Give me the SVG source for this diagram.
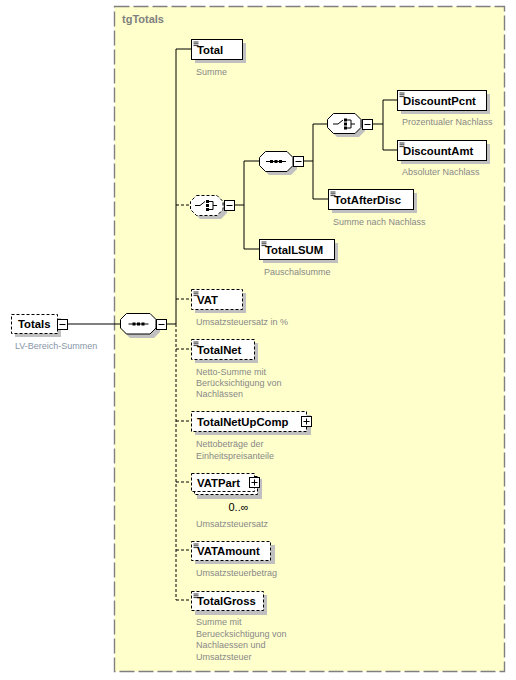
<svg xmlns="http://www.w3.org/2000/svg" width="516" height="680" viewBox="0 0 516 680">
<style>
.grp{fill:#FFFFCC;stroke:#808080;stroke-width:1.4;stroke-dasharray:15 4}
.gt{font-family:"Liberation Sans",Arial,sans-serif;font-weight:bold;font-size:11px;fill:#808080}
.box{fill:#fff;stroke:#000;stroke-width:1}
.opt{stroke-dasharray:3 2}
.sh{fill:#c0c0c0;stroke:none}
.nm{font-family:"Liberation Sans",Arial,sans-serif;font-weight:bold;font-size:11.3px;fill:#000}
.ds{font-family:"Liberation Sans",Arial,sans-serif;font-size:9px;fill:#888}
.ln{fill:none;stroke:#000;stroke-width:1}
.dl{fill:none;stroke:#000;stroke-width:1;stroke-dasharray:3 2}
.ic{fill:none;stroke:#000;stroke-width:0.8}
.pm{fill:#fff;stroke:#000;stroke-width:1}
.oc{font-family:"Liberation Sans",Arial,sans-serif;font-size:11px;fill:#000}
</style>
<defs>
<g id="elicon"><path class="ic" d="M2,2.5H7M2,4.3H7M2,6.1H7"/></g>
<g id="minus"><rect class="pm" x="0" y="0" width="10" height="10"/><path class="ln" d="M2,5H8"/></g>
<g id="plus"><rect class="pm" x="0" y="0" width="10" height="10"/><path class="ln" d="M2,5H8M5,2V8"/></g>
<g id="seqicon"><path class="ln" d="M-10,0H10"/><rect x="-6" y="-1.5" width="3" height="3"/><rect x="-1.5" y="-1.5" width="3" height="3"/><rect x="3" y="-1.5" width="3" height="3"/></g>
<g id="choiceicon"><path class="ln" d="M-12,0H-7L-2,-4"/><rect x="-1" y="-5.5" width="3" height="3"/><rect x="-1" y="-1.5" width="3" height="3"/><rect x="-1" y="2.5" width="3" height="3"/><path class="ln" d="M2,-4H6V4H2M6,0H10"/></g>
</defs>

<g id="tgTotals">
<rect class="grp" x="114.5" y="6.5" width="390" height="665"/>
<text class="gt" x="122" y="23">tgTotals</text>
</g>

<g id="connectors">
<path class="ln" d="M67,324H120M166,324H176M176,49V324M176,49H191"/>
<path class="dl" d="M176,324V600M176,205H190M176,299H191M176,349H191M176,421H191M176,482H191M176,550H191M176,600H191"/>
<path class="ln" d="M234,205H244M244,161V249M244,161H259M244,249H259"/>
<path class="ln" d="M303,161H313M313,124V199M313,124H327M313,199H328"/>
<path class="ln" d="M372,124H383M383,100V150M383,100H397M383,150H397"/>
</g>

<g id="Totals">
<rect class="sh" x="15" y="318" width="46" height="19"/>
<rect class="box opt" x="11.5" y="314.5" width="46" height="19"/>
<text class="nm" x="18" y="328">Totals</text>
<use href="#minus" x="57.5" y="319.5"/>
<text class="ds" x="15" y="349" style="fill:#8896a8">LV-Bereich-Summen</text>
</g>

<g id="sequence1">
<path class="sh" d="M130,317H154L160,323V332L154,338H130L124,332V323Z"/>
<path class="box" d="M126.5,313.5H150L156,319.5V328L150,334H126.5L120.5,328V319.5Z"/>
<use href="#seqicon" x="138.5" y="324"/>
<use href="#minus" x="156.5" y="319.5"/>
</g>

<g id="Total">
<rect class="sh" x="195" y="43" width="51" height="20"/>
<rect class="box" x="191.5" y="39.5" width="51" height="20"/>
<use href="#elicon" x="191.5" y="39.5"/>
<text class="nm" x="197" y="54">Total</text>
<text class="ds" x="196" y="75">Summe</text>
</g>

<g id="choice1">
<path class="sh" d="M200,199H221L227,205V213L221,219H200L194,213V205Z"/>
<path class="box opt" d="M196.5,195.5H217L223,201.5V209.5L217,215.5H196.5L190.5,209.5V201.5Z"/>
<use href="#choiceicon" x="207" y="205.5"/>
<use href="#minus" x="224.5" y="200.5"/>
</g>

<g id="sequence2">
<path class="sh" d="M269,155H291L297,161V169L291,175H269L263,169V161Z"/>
<path class="box" d="M265.5,151.5H287L293,157.5V165.5L287,171.5H265.5L259.5,165.5V157.5Z"/>
<use href="#seqicon" x="276" y="161.5"/>
<use href="#minus" x="293.5" y="156.5"/>
</g>

<g id="choice2">
<path class="sh" d="M337,117H359L365,123V131L359,137H337L331,131V123Z"/>
<path class="box" d="M333.5,113.5H355L361,119.5V127.5L355,133.5H333.5L327.5,127.5V119.5Z"/>
<use href="#choiceicon" x="345" y="124"/>
<use href="#minus" x="362.5" y="119.5"/>
</g>

<g id="DiscountPcnt">
<rect class="sh" x="401" y="94" width="89" height="20"/>
<rect class="box" x="397.5" y="90.5" width="89" height="20"/>
<use href="#elicon" x="397.5" y="90.5"/>
<text class="nm" x="403" y="105">DiscountPcnt</text>
<text class="ds" x="402" y="125">Prozentualer Nachlass</text>
</g>

<g id="DiscountAmt">
<rect class="sh" x="401" y="144" width="89" height="20"/>
<rect class="box" x="397.5" y="140.5" width="89" height="20"/>
<use href="#elicon" x="397.5" y="140.5"/>
<text class="nm" x="403" y="155">DiscountAmt</text>
<text class="ds" x="402" y="175">Absoluter Nachlass</text>
</g>

<g id="TotAfterDisc">
<rect class="sh" x="332" y="193" width="85" height="20"/>
<rect class="box" x="328.5" y="189.5" width="85" height="20"/>
<use href="#elicon" x="328.5" y="189.5"/>
<text class="nm" x="334" y="204">TotAfterDisc</text>
<text class="ds" x="333" y="225">Summe nach Nachlass</text>
</g>

<g id="TotalLSUM">
<rect class="sh" x="263" y="243" width="75" height="20"/>
<rect class="box" x="259.5" y="239.5" width="75" height="20"/>
<use href="#elicon" x="259.5" y="239.5"/>
<text class="nm" x="265" y="254">TotalLSUM</text>
<text class="ds" x="264" y="275">Pauschalsumme</text>
</g>

<g id="VAT">
<rect class="sh" x="195" y="293" width="51" height="20"/>
<rect class="box opt" x="191.5" y="289.5" width="51" height="20"/>
<use href="#elicon" x="191.5" y="289.5"/>
<text class="nm" x="197" y="304">VAT</text>
<text class="ds" x="196" y="325">Umsatzsteuersatz in %</text>
</g>

<g id="TotalNet">
<rect class="sh" x="195" y="343" width="63" height="20"/>
<rect class="box opt" x="191.5" y="339.5" width="63" height="20"/>
<use href="#elicon" x="191.5" y="339.5"/>
<text class="nm" x="197" y="354">TotalNet</text>
<text class="ds" x="196" y="375">Netto-Summe mit</text>
<text class="ds" x="196" y="386">Berücksichtigung von</text>
<text class="ds" x="196" y="397">Nachlässen</text>
</g>

<g id="TotalNetUpComp">
<rect class="sh" x="195" y="415" width="116" height="20"/>
<rect class="box opt" x="191.5" y="411.5" width="115" height="20"/>
<text class="nm" x="197" y="426">TotalNetUpComp</text>
<use href="#plus" x="301.5" y="416.5"/>
<text class="ds" x="196" y="447">Nettobeträge der</text>
<text class="ds" x="196" y="459">Einheitspreisanteile</text>
</g>

<g id="VATPart">
<rect class="sh" x="197" y="479" width="65" height="20"/>
<rect class="box opt" x="194.5" y="476.5" width="63" height="18"/>
<rect class="box opt" x="191.5" y="473.5" width="63" height="18"/>
<text class="nm" x="197" y="487">VATPart</text>
<use href="#plus" x="249.5" y="477.5"/>
<text class="oc" x="238.5" y="511" text-anchor="middle">0..∞</text>
<text class="ds" x="196" y="527">Umsatzsteuersatz</text>
</g>

<g id="VATAmount">
<rect class="sh" x="195" y="545" width="80" height="19"/>
<rect class="box opt" x="191.5" y="541.5" width="79" height="19"/>
<use href="#elicon" x="191.5" y="541.5"/>
<text class="nm" x="197" y="555">VATAmount</text>
<text class="ds" x="196" y="576">Umsatzsteuerbetrag</text>
</g>

<g id="TotalGross">
<rect class="sh" x="195" y="595" width="72" height="20"/>
<rect class="box opt" x="191.5" y="591.5" width="72" height="19"/>
<use href="#elicon" x="191.5" y="591.5"/>
<text class="nm" x="197" y="605">TotalGross</text>
<text class="ds" x="196" y="625">Summe mit</text>
<text class="ds" x="196" y="636.5">Beruecksichtigung von</text>
<text class="ds" x="196" y="648">Nachlaessen und</text>
<text class="ds" x="196" y="659.5">Umsatzsteuer</text>
</g>
</svg>
